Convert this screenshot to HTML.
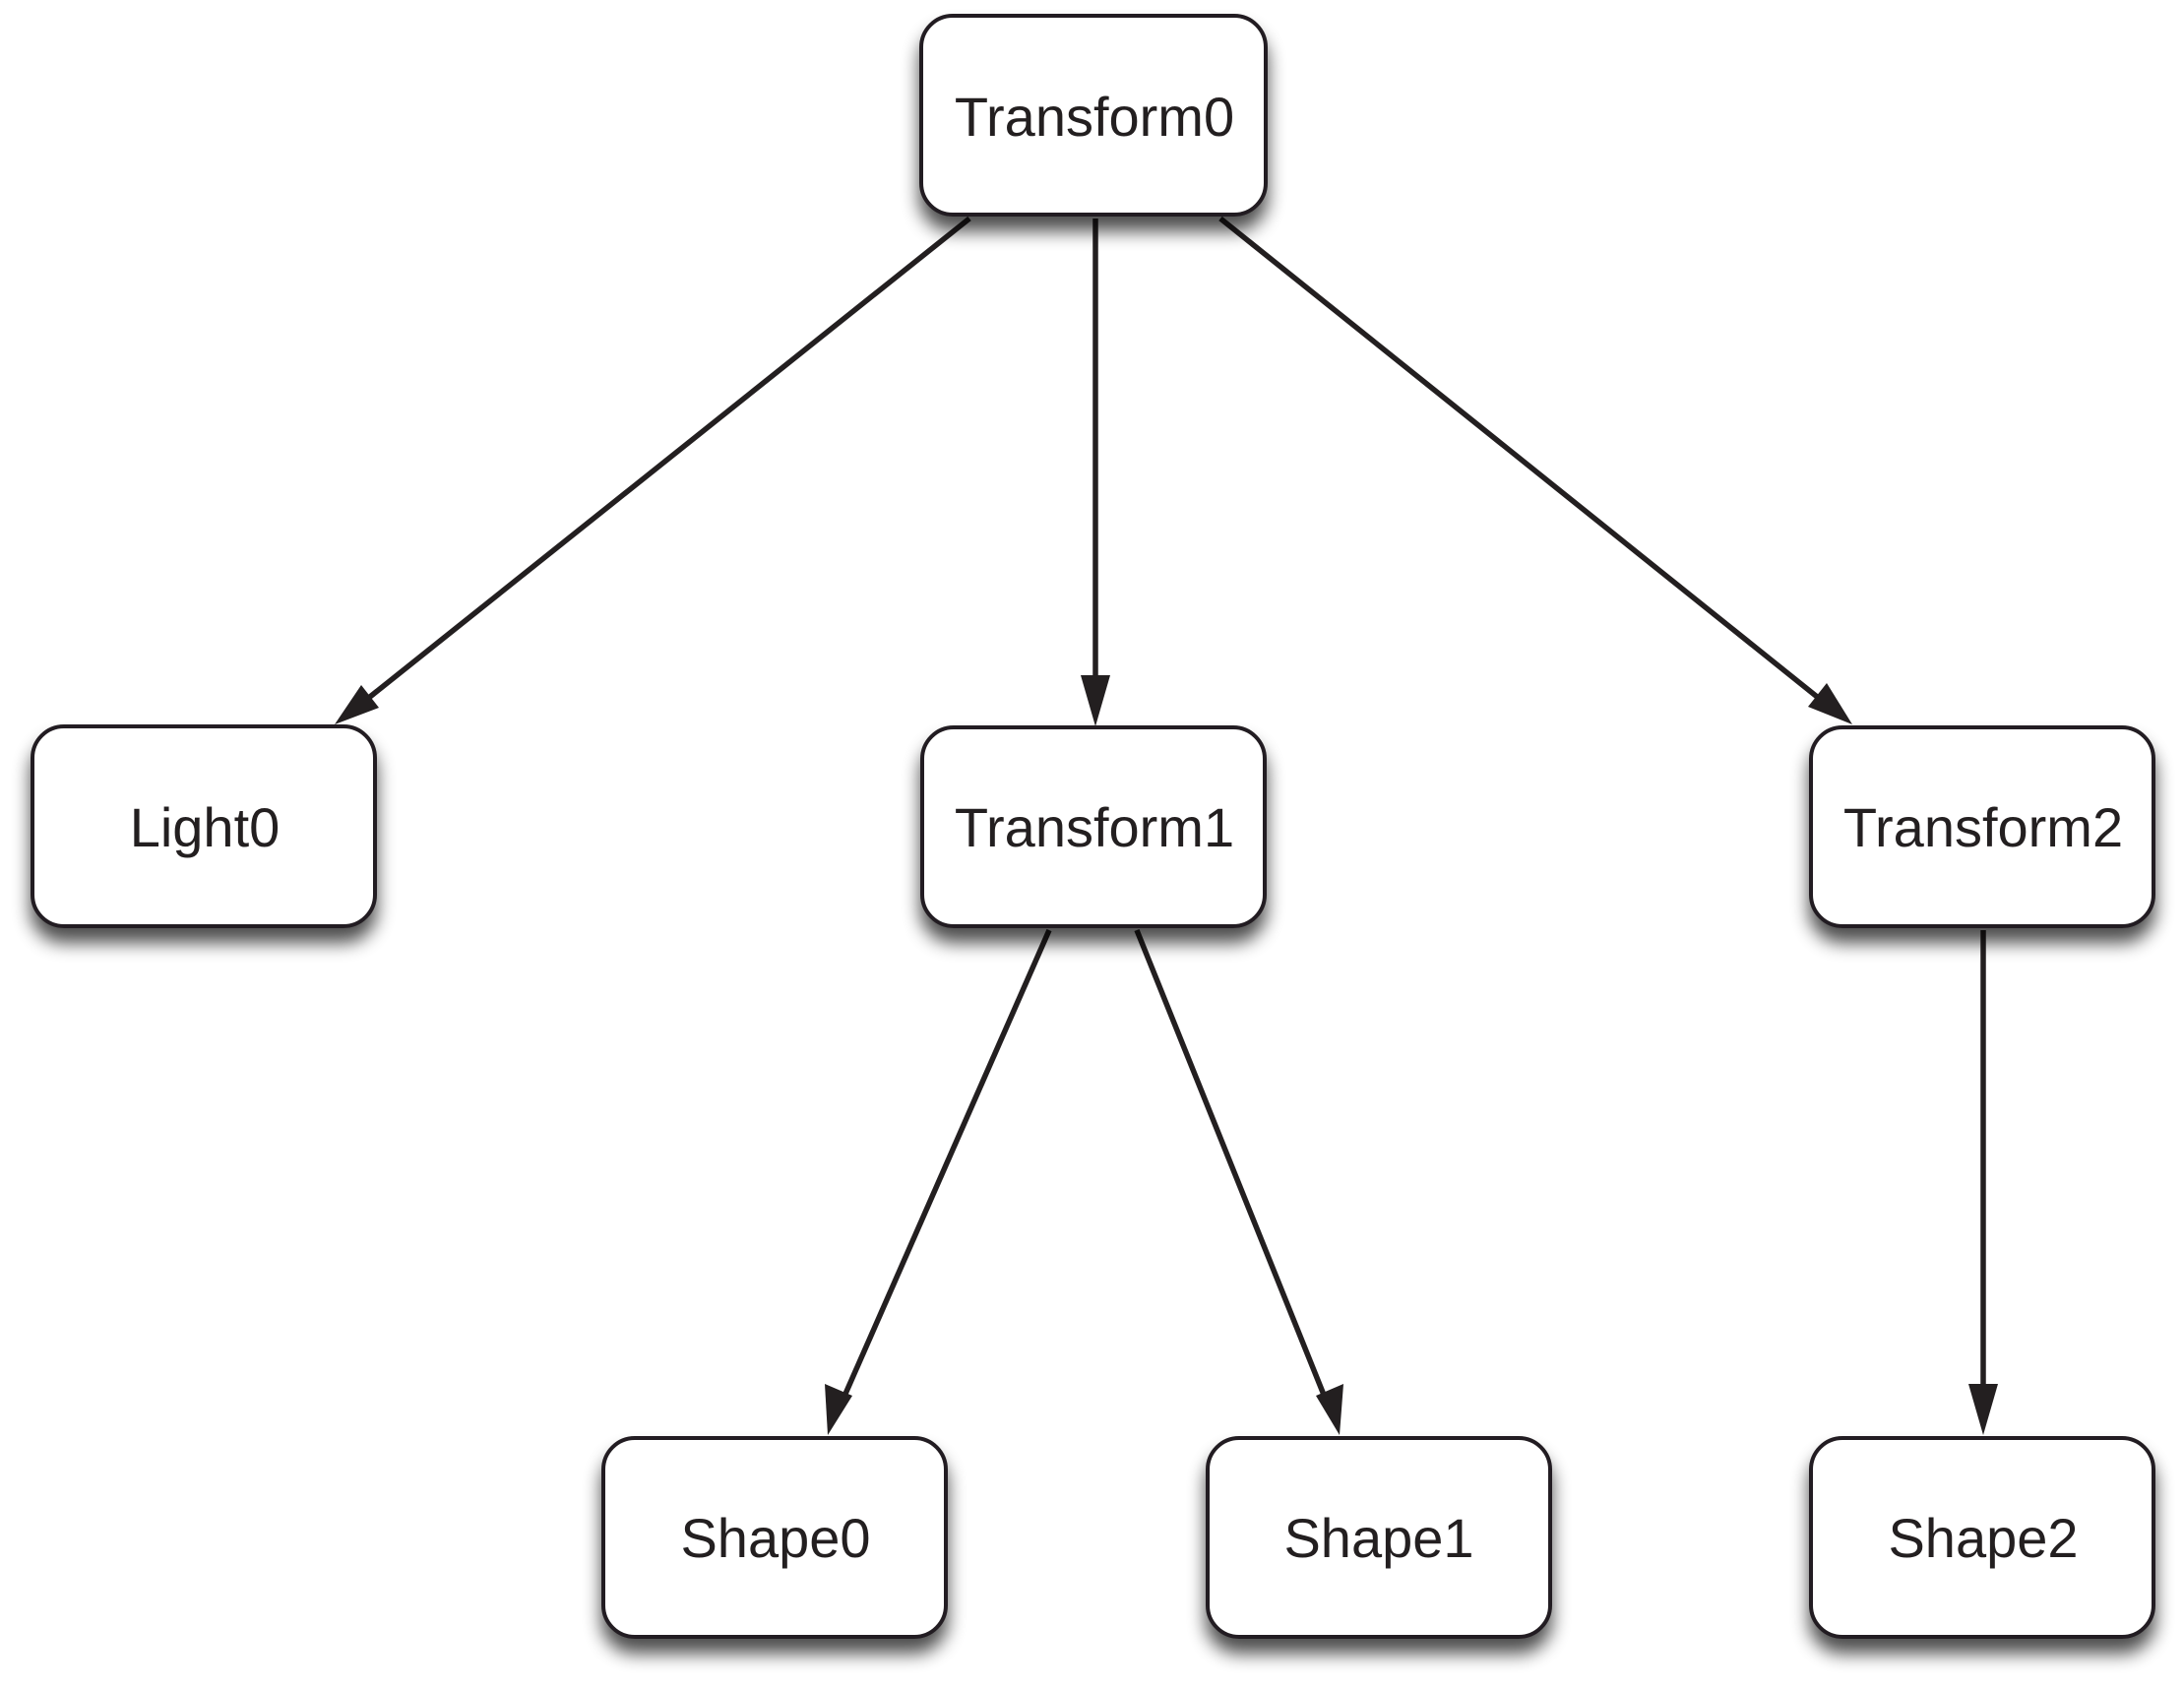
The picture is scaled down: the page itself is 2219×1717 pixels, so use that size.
<!DOCTYPE html>
<html><head><style>html,body{margin:0;padding:0;background:#fff}</style></head>
<body>
<svg width="2219" height="1712" viewBox="0 0 2219 1712" xmlns="http://www.w3.org/2000/svg">
<defs>
<filter id="sh" x="-20%" y="-20%" width="140%" height="160%">
<feGaussianBlur in="SourceAlpha" stdDeviation="9"/>
<feOffset dx="0" dy="15" result="b"/>
<feComponentTransfer><feFuncA type="linear" slope="0.7"/></feComponentTransfer>
<feMerge><feMergeNode/><feMergeNode in="SourceGraphic"/></feMerge>
</filter>
</defs>
<g stroke="#231f20" stroke-width="5.5" fill="none">
<line x1="985" y1="222" x2="362" y2="719"/>
<line x1="1113" y1="222" x2="1113" y2="705"/>
<line x1="1240" y1="222" x2="1860" y2="719"/>
<line x1="1066" y1="945" x2="852" y2="1432"/>
<line x1="1155" y1="945" x2="1351" y2="1432"/>
<line x1="2015" y1="945" x2="2015" y2="1428"/>
</g>
<g fill="#231f20">
<polygon points="340,736 367,696 385,719"/>
<polygon points="1113,738 1098,686 1128,686"/>
<polygon points="1882,736 1837,718 1856,694"/>
<polygon points="841,1458 838,1406 866,1418"/>
<polygon points="1361,1458 1337,1418 1365,1406"/>
<polygon points="2015,1458 2000,1406 2030,1406"/>
</g>
<g filter="url(#sh)" fill="#fff" stroke="#231f20" stroke-width="4">
<rect x="936" y="16" width="350" height="202" rx="32"/>
<rect x="33" y="738" width="348" height="203" rx="32"/>
<rect x="937" y="739" width="348" height="202" rx="32"/>
<rect x="1840" y="739" width="348" height="202" rx="32"/>
<rect x="613" y="1461" width="348" height="202" rx="32"/>
<rect x="1227" y="1461" width="348" height="202" rx="32"/>
<rect x="1840" y="1461" width="348" height="202" rx="32"/>
</g>
<g font-family="Liberation Sans, sans-serif" font-size="56" fill="#231f20" text-anchor="middle">
<text x="1112" y="138">Transform0</text>
<text x="208" y="860">Light0</text>
<text x="1112" y="860">Transform1</text>
<text x="2015" y="860">Transform2</text>
<text x="788" y="1582">Shape0</text>
<text x="1401" y="1582">Shape1</text>
<text x="2015" y="1582">Shape2</text>
</g>
</svg>
</body></html>
